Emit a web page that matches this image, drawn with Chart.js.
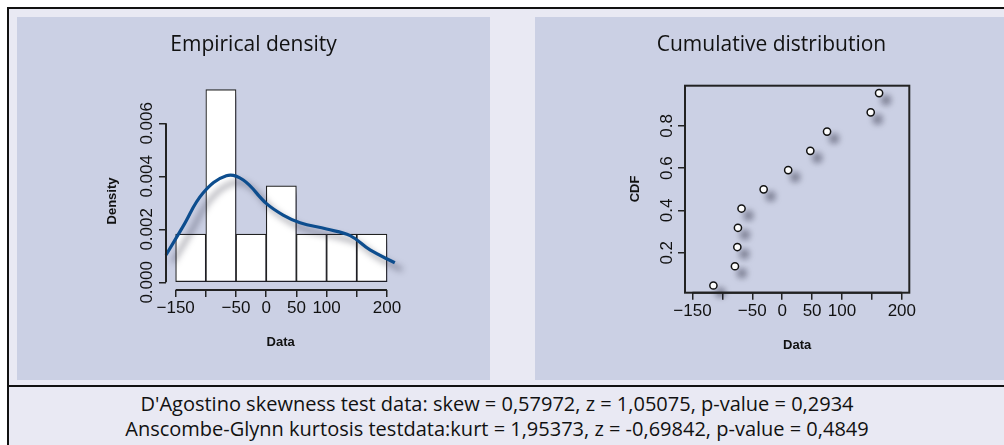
<!DOCTYPE html>
<html>
<head>
<meta charset="utf-8">
<script src="https://cdn.jsdelivr.net/npm/chart.js@4.4.0/dist/chart.umd.min.js"></script>
<style>
  html, body { margin: 0; padding: 0; background: #fff; overflow: hidden; }
  body { width: 1004px; height: 445px; position: relative; }
  #frame { position: absolute; left: 7px; top: 7px; width: 1100px; height: 500px;
           border-left: 2px solid #111; border-top: 2px solid #111; background: #e9e9f3; }
  .panel { position: absolute; top: 17px; width: 473px; height: 363px; background: #cbd0e4; }
  #p1 { left: 17px; }
  #p2 { left: 535px; }
  #divider { position: absolute; left: 7px; top: 385px; width: 1100px; height: 2px; background: #111; }
  #stats { position: absolute; left: 0; top: 391px; width: 994px; text-align: center;
           font-family: "Open Sans", sans-serif; font-size: 20px; line-height: 25px; color: #111; }
</style>
</head>
<body>
<div id="frame"></div>
<div class="panel" id="p1"><canvas id="densite" width="473" height="363"></canvas></div>
<div class="panel" id="p2"><canvas id="cumul" width="473" height="363"></canvas></div>
<div id="divider"></div>
<div id="stats">
  <div>D'Agostino skewness test data: skew = 0,57972, z = 1,05075, p-value = 0,2934</div>
  <div>Anscombe-Glynn kurtosis testdata:kurt = 1,95373, z = -0,69842, p-value = 0,4849</div>
</div>
<script>
// histogramme
const binEdges = [-150, -100, -50, 0, 50, 100, 150, 200];
const binDensity = [0.00182, 0.00727, 0.00182, 0.00364, 0.00182, 0.00182, 0.00182];

// courbe de densite
const kdeX = [-166, -138, -105, -66, -38, 0, 28, 56, 100, 139, 172, 213];
const kdeY = [0.00103, 0.0021, 0.00336, 0.00402, 0.00386, 0.00298, 0.00254, 0.00225, 0.00201, 0.00176, 0.00122, 0.00074];

// fonction de repartition
const sampleX = [-115, -79, -75, -74, -68, -31, 10, 47, 75, 148, 162];
const cdfY = [0.045, 0.136, 0.227, 0.318, 0.409, 0.5, 0.591, 0.682, 0.773, 0.864, 0.955];

// axes
const xTicks = [-150, -100, -50, 0, 50, 100, 150, 200];
const xTickLabels = ['\u2212150', '', '\u221250', '0', '50', '100', '', '200'];
const densityTicks = [0, 0.002, 0.004, 0.006];
const densityTickLabels = ['0.000', '0.002', '0.004', '0.006'];
const cdfTicks = [0.2, 0.4, 0.6, 0.8];
const cdfTickLabels = ['0.2', '0.4', '0.6', '0.8'];

const axisFont = '"Liberation Sans", Arial, sans-serif';
const PANEL_W = 473, PANEL_H = 363;

// ombres + axes facon R
const rAxes = {
    id: 'rAxes',
    beforeDatasetsDraw(chart) {
        const ctx = chart.ctx;
        ctx.save();
        ctx.shadowColor = 'rgba(30,30,50,0.5)';
        ctx.shadowBlur = 6;
        ctx.shadowOffsetX = 7;
        ctx.shadowOffsetY = 7;
    },
    afterDatasetsDraw(chart) {
        chart.ctx.restore();
    },
    afterDraw(chart, args, o) {
        const { ctx, chartArea: a, scales: { x, y } } = chart;
        ctx.save();
        ctx.strokeStyle = '#222';
        ctx.lineWidth = 2;
        if (o.box) {
            ctx.strokeRect(a.left, a.top, a.right - a.left, a.bottom - a.top);
        }
        ctx.beginPath();
        ctx.moveTo(x.getPixelForValue(xTicks[0]), a.bottom);
        ctx.lineTo(x.getPixelForValue(xTicks[xTicks.length - 1]), a.bottom);
        ctx.moveTo(a.left, y.getPixelForValue(o.yTicks[0]));
        ctx.lineTo(a.left, y.getPixelForValue(o.yTicks[o.yTicks.length - 1]));
        ctx.stroke();

        ctx.fillStyle = '#111';
        ctx.textAlign = 'center';
        ctx.textBaseline = 'middle';
        ctx.font = '17px ' + axisFont;
        o.yTicks.forEach((v, i) => {
            ctx.save();
            ctx.translate(o.yLabelX, y.getPixelForValue(v));
            ctx.rotate(-Math.PI / 2);
            ctx.fillText(o.yLabels[i], 0, 0);
            ctx.restore();
        });
        ctx.font = 'bold 13px ' + axisFont;
        ctx.translate(o.yTitleX, o.yTitleY);
        ctx.rotate(-Math.PI / 2);
        ctx.fillText(o.yTitle, 0, 0);
        ctx.restore();
    }
};

function buildOptions(p) {
    return {
        responsive: false,
        animation: false,
        events: [],
        layout: { padding: 0 },
        plugins: {
            legend: { display: false },
            tooltip: { enabled: false },
            title: {
                display: true,
                text: p.title,
                color: '#111',
                font: { family: '"Open Sans", sans-serif', size: 21, weight: 'normal', lineHeight: 1.2 },
                padding: { top: 15, bottom: p.top - 15 - 25.2 }
            },
            rAxes: p.axes
        },
        scales: {
            x: {
                type: 'linear',
                min: p.xMin,
                max: p.xMax,
                bounds: 'data',
                offset: false,
                afterBuildTicks: s => { s.ticks = xTicks.map(v => ({ value: v })); },
                afterFit: s => { s.height = PANEL_H - p.bottom; },
                border: { display: false },
                grid: { offset: false, drawOnChartArea: false, drawTicks: true, tickLength: 7, color: '#222', lineWidth: 1.5 },
                ticks: {
                    autoSkip: false, maxRotation: 0, minRotation: 0, padding: 1,
                    color: '#111', font: { family: axisFont, size: 17, lineHeight: 1.2 },
                    callback: (v, i) => xTickLabels[i]
                },
                title: {
                    display: true, text: 'Data', color: '#111',
                    font: { family: axisFont, size: 13, weight: 'bold', lineHeight: 1.2 },
                    padding: { top: 0, bottom: p.xTitlePad }
                }
            },
            y: {
                type: 'linear',
                min: p.yMin,
                max: p.yMax,
                bounds: 'data',
                afterBuildTicks: s => { s.ticks = p.axes.yTicks.map(v => ({ value: v })); },
                afterFit: s => { s.width = p.left; },
                border: { display: false },
                grid: { drawOnChartArea: false, drawTicks: true, tickLength: 7, color: '#222', lineWidth: 1.5 },
                ticks: { display: false }
            },
            // marge droite pour que le titre reste centre sur le panneau
            marge: {
                type: 'linear',
                position: 'right',
                display: true,
                afterFit: s => { s.width = PANEL_W - p.right; },
                border: { display: false },
                grid: { display: false },
                ticks: { display: false }
            }
        }
    };
}

new Chart(document.getElementById('densite'), {
    type: 'bar',
    data: {
        datasets: [
            {
                type: 'line',
                data: kdeX.map((v, i) => ({ x: v, y: kdeY[i] })),
                borderColor: '#0d4d8e',
                borderWidth: 3.2,
                pointRadius: 0,
                tension: 0.4,
                clip: false,
                order: 0
            },
            {
                type: 'bar',
                data: binDensity.map((d, i) => ({ x: (binEdges[i] + binEdges[i + 1]) / 2, y: d })),
                backgroundColor: '#ffffff',
                borderColor: '#222',
                borderWidth: 1.2,
                borderSkipped: false,
                barPercentage: 1,
                categoryPercentage: 1,
                clip: false,
                order: 1
            }
        ]
    },
    options: buildOptions({
        title: 'Empirical density',
        left: 149, right: 378.4, top: 65, bottom: 273,
        xMin: -166, xMax: 214, yMin: -0.00029, yMax: 0.00756,
        xTitlePad: 29.6,
        axes: {
            box: false, yTicks: densityTicks, yLabels: densityTickLabels,
            yLabelX: 130, yTitle: 'Density', yTitleX: 95, yTitleY: 184
        }
    }),
    plugins: [rAxes]
});

new Chart(document.getElementById('cumul'), {
    type: 'scatter',
    data: {
        datasets: [{
            data: sampleX.map((v, i) => ({ x: v, y: cdfY[i] })),
            pointRadius: 3.6,
            pointBackgroundColor: '#ffffff',
            pointBorderColor: '#111',
            pointBorderWidth: 1.5,
            clip: false
        }]
    },
    options: buildOptions({
        title: 'Cumulative distribution',
        left: 150, right: 374.3, top: 68.7, bottom: 275.7,
        xMin: -162.5, xMax: 212.5, yMin: 0.011, yMax: 0.99,
        xTitlePad: 26.6,
        axes: {
            box: true, yTicks: cdfTicks, yLabels: cdfTickLabels,
            yLabelX: 132, yTitle: 'CDF', yTitleX: 100, yTitleY: 172
        }
    }),
    plugins: [rAxes]
});
</script>
</body>
</html>
